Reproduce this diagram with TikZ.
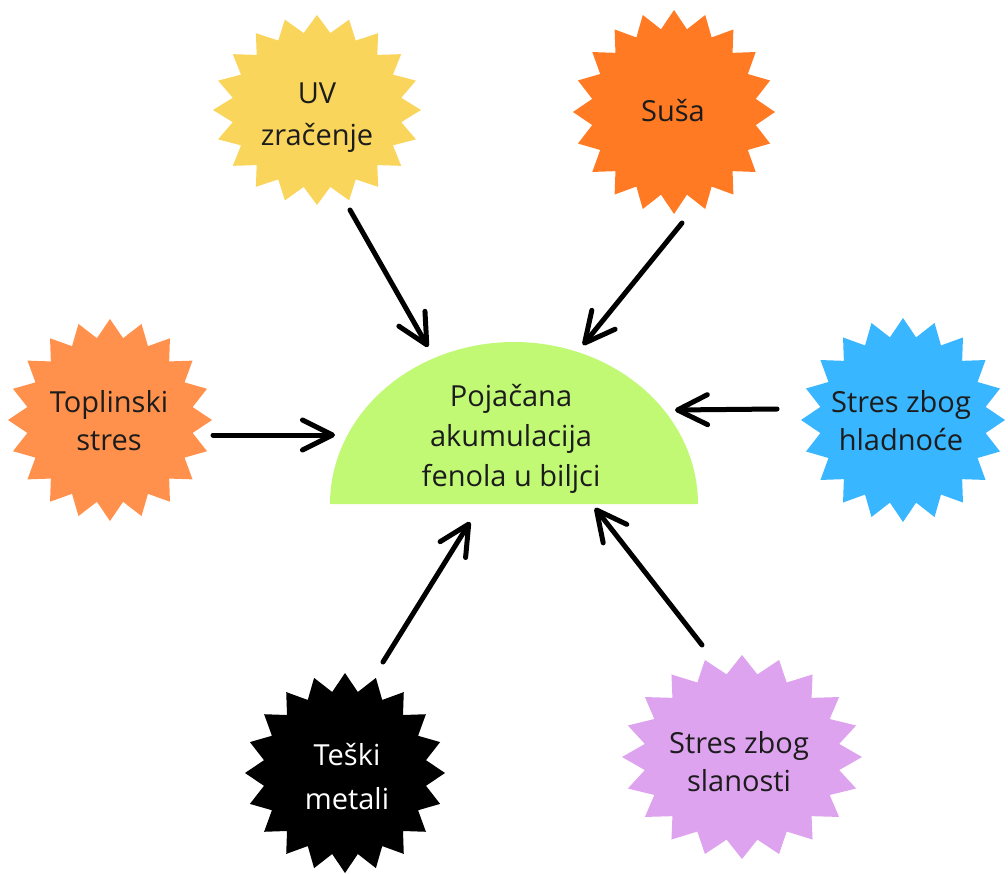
\documentclass[tikz,border=0pt]{standalone}
\usepackage{fontspec}
\setmainfont{Open Sans}
\usetikzlibrary{arrows.meta}
\definecolor{cUV}{HTML}{FAD55C}
\definecolor{cSusa}{HTML}{FF7A22}
\definecolor{cTop}{HTML}{FF914D}
\definecolor{cHlad}{HTML}{38B6FF}
\definecolor{cSlan}{HTML}{DEA3EE}
\definecolor{cCent}{HTML}{C1F975}
\definecolor{txt}{HTML}{1C1C1C}
\newcommand{\drawburst}[5]{%
  \fill[#5] plot[samples at={0,...,39}] ({#1+#3*(1-0.18*mod(\x,2))*sin(\x*9)},{#2-#4*(1-0.18*mod(\x,2))*cos(\x*9)}) -- cycle;}
\tikzset{
  lbl/.style={align=center, inner sep=0pt, text=txt, font=\fontsize{29}{38}\selectfont},
  lblwide/.style={lbl, font=\fontsize{29}{42}\selectfont},
  arr/.style={line width=5pt, line cap=round, line join=round, -{Straight Barb[round,length=30pt,width=30pt]}}
}
\begin{document}
\begin{tikzpicture}[x=1pt,y=-1pt]
\useasboundingbox (0,0) rectangle (1008,874);
\fill[white] (0,0) rectangle (1008,874);
% shapes
\drawburst{317}{110}{104}{95}{cUV}
\drawburst{674}{112}{101}{102}{cSusa}
\drawburst{110}{420}{102}{101}{cTop}
\drawburst{903}{420}{102}{102}{cHlad}
\drawburst{345}{773}{100}{100}{black}
\drawburst{742}{757}{120}{102}{cSlan}
\fill[cCent] plot[domain=0:180, samples=90] ({514+184*cos(\x)},{504-162*sin(\x)}) -- cycle;
% labels
\node[lblwide] (uv) at (317,117.5) {UV\\zračenje};
\node[lbl] (susa) at (673,111) {Suša};
\node[lbl] (topl) at (109,421) {Toplinski\\stres};
\node[lbl] (hlad) at (901,421) {Stres zbog\\hladnoće};
\node[lblwide, text=white, font=\fontsize{29}{44}\selectfont] (tesk) at (347,777) {Teški\\metali};
\node[lbl] (slan) at (739,762) {Stres zbog\\slanosti};
\node[lbl, font=\fontsize{29}{40}\selectfont] (cent) at (511,438.5) {Pojačana\\akumulacija\\fenola u biljci};
% connectors
\coordinate (uv-o) at (350,210);   \coordinate (cent-uv) at (428,347);
\coordinate (susa-o) at (682,223); \coordinate (cent-susa) at (583,345);
\coordinate (topl-o) at (213,435); \coordinate (cent-topl) at (335,435);
\coordinate (hlad-o) at (777,409); \coordinate (cent-hlad) at (675,410);
\coordinate (tesk-o) at (383,662); \coordinate (cent-tesk) at (470,522);
\coordinate (slan-o) at (702,645); \coordinate (cent-slan) at (595,508);
\draw[arr] (uv-o) -- (cent-uv);
\draw[arr] (susa-o) -- (cent-susa);
\draw[arr] (topl-o) -- (cent-topl);
\draw[arr] (hlad-o) -- (cent-hlad);
\draw[arr] (tesk-o) -- (cent-tesk);
\draw[arr] (slan-o) -- (cent-slan);
\end{tikzpicture}
\end{document}
